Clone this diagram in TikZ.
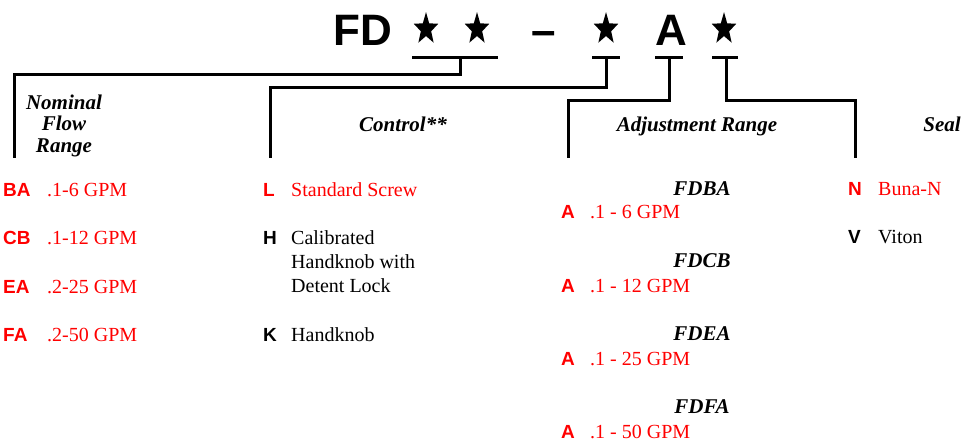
\documentclass[tikz,border=0pt]{standalone}
\usepackage{fontspec}
\setmainfont{Liberation Serif}
\newfontfamily\codefont{Liberation Sans}
\usetikzlibrary{shapes.geometric}
\definecolor{stdred}{RGB}{255,0,0}
\tikzset{
  title/.style={anchor=base, inner sep=0pt, font=\codefont\bfseries\fontsize{44}{44}\selectfont},
  wild/.style={star, star points=5, star point ratio=2.4, fill=black, inner sep=0pt, minimum size=26pt, yscale=1.3, transform shape},
  uline/.style={line width=3pt},
  bracket/.style={line width=3pt},
  head/.style={anchor=base, inner sep=0pt, align=center, font=\bfseries\itshape\fontsize{21}{21.5}\selectfont},
  code/.style={anchor=base west, inner sep=0pt, font=\codefont\bfseries\fontsize{19}{19}\selectfont},
  item/.style={anchor=base west, inner sep=0pt, align=left, font=\fontsize{20}{24}\selectfont},
  std/.style={text=stdred}
}
\begin{document}
\begin{tikzpicture}[x=1pt,y=-1pt]
\useasboundingbox (0,0) rectangle (970,445);
\node[title] (fd) at (363,45) {FD};
\node[wild] (s1) at (426,29) {};
\node[wild] (s2) at (477,29) {};
\node[title] (dash) at (544,45) {–};
\node[wild] (s3) at (606,29) {};
\node[title] (a) at (671,45) {A};
\node[wild] (s4) at (724,29) {};
\draw[uline] (412,57) -- (498,57);
\draw[uline] (592,57) -- (620,57);
\draw[uline] (655,57) -- (683,57);
\draw[uline] (712,57) -- (738,57);
\coordinate (flow) at (14,158);
\coordinate (ctrl) at (270,158);
\coordinate (adj) at (568,158);
\coordinate (seal) at (855,158);
\draw[bracket] (460,57) -- (460,74) -| (flow);
\draw[bracket] (606,57) -- (606,87) -| (ctrl);
\draw[bracket] (669,57) -- (669,100) -| (adj);
\draw[bracket] (726,57) -- (726,100) -| (seal);
\node[head] (hflow) at (64,152) {Nominal\\Flow\\Range};
\node[head] (hctrl) at (403,131) {Control**};
\node[head] (hadj) at (697,131) {Adjustment Range};
\node[head] (hseal) at (942,131) {Seal};
\node[code, std] (ba) at (3,196) {BA};
\node[item, std] (bat) at (47,196) {.1-6 GPM};
\node[code, std] (cb) at (3,244) {CB};
\node[item, std] (cbt) at (47,244) {.1-12 GPM};
\node[code, std] (ea) at (3,293) {EA};
\node[item, std] (eat) at (47,293) {.2-25 GPM};
\node[code, std] (fa) at (3,341) {FA};
\node[item, std] (fat) at (47,341) {.2-50 GPM};
\node[code, std] (l) at (263,196) {L};
\node[item, std] (lt) at (291,196) {Standard Screw};
\node[code] (h) at (263,244) {H};
\node[item] (ht) at (291,292) {Calibrated\\Handknob with\\Detent Lock};
\node[code] (k) at (263,341) {K};
\node[item] (kt) at (291,341) {Handknob};
\node[head] (fdba) at (702,195) {FDBA};
\node[code, std] (a1) at (561,218) {A};
\node[item, std] (a1t) at (590,218) {.1 - 6 GPM};
\node[head] (fdcb) at (702,267) {FDCB};
\node[code, std] (a2) at (561,292) {A};
\node[item, std] (a2t) at (590,292) {.1 - 12 GPM};
\node[head] (fdea) at (702,340) {FDEA};
\node[code, std] (a3) at (561,365) {A};
\node[item, std] (a3t) at (590,365) {.1 - 25 GPM};
\node[head] (fdfa) at (702,413) {FDFA};
\node[code, std] (a4) at (561,438) {A};
\node[item, std] (a4t) at (590,438) {.1 - 50 GPM};
\node[code, std] (n) at (848,195) {N};
\node[item, std] (nt) at (878,195) {Buna-N};
\node[code] (v) at (848,243) {V};
\node[item] (vt) at (878,243) {Viton};
\end{tikzpicture}
\end{document}
